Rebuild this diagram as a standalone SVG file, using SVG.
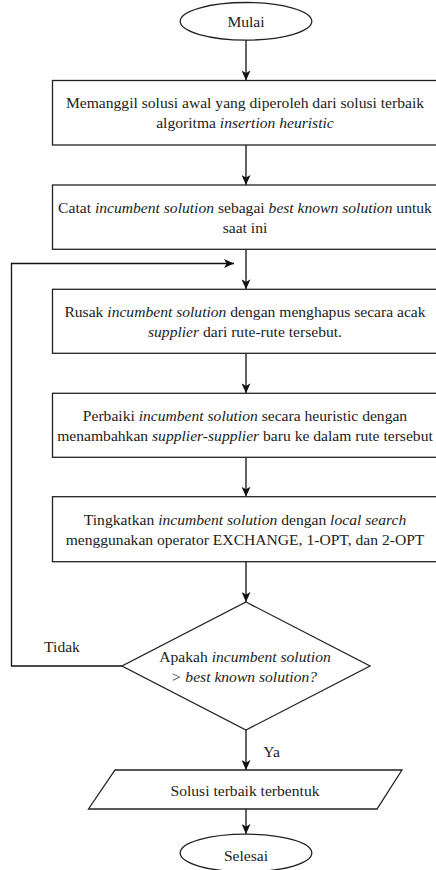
<svg xmlns="http://www.w3.org/2000/svg" width="436" height="870" viewBox="0 0 436 870">
<style>
.shape{fill:#ffffff;stroke:#222222;stroke-width:1.3}
.line{fill:none;stroke:#111111;stroke-width:1.3}
text{font-family:"Liberation Serif","Times New Roman",serif;font-size:15.6px;fill:#222222;text-anchor:middle}
.it{font-style:italic}
</style>
<defs>
<marker id="arr" viewBox="0 0 10 9" refX="10" refY="4.5" markerWidth="10" markerHeight="9" markerUnits="userSpaceOnUse" orient="auto">
<path d="M0,0 L10,4.5 L0,9 L2.6,4.5 z" fill="#111111"/>
</marker>
</defs>
<rect width="436" height="870" fill="#ffffff"/>
<g id="connectors">
<line class="line" x1="246" y1="40" x2="246" y2="80.5" marker-end="url(#arr)"/>
<line class="line" x1="246" y1="145" x2="246" y2="185" marker-end="url(#arr)"/>
<line class="line" x1="246" y1="249.3" x2="246" y2="289.3" marker-end="url(#arr)"/>
<line class="line" x1="246" y1="353.3" x2="246" y2="393.3" marker-end="url(#arr)"/>
<line class="line" x1="246" y1="457.3" x2="246" y2="496.7" marker-end="url(#arr)"/>
<line class="line" x1="246" y1="561.7" x2="246" y2="602" marker-end="url(#arr)"/>
<line class="line" x1="246" y1="730" x2="246" y2="770" marker-end="url(#arr)"/>
<line class="line" x1="246" y1="809" x2="246" y2="834" marker-end="url(#arr)"/>
<polyline class="line" points="122,666 11.5,666 11.5,263.5 234,263.5" marker-end="url(#arr)"/>
<text x="62" y="652">Tidak</text>
<text x="271.5" y="757">Ya</text>
</g>
<g id="mulai">
<ellipse class="shape" cx="246" cy="21.3" rx="65.8" ry="18.8"/>
<text x="246" y="26.8">Mulai</text>
</g>
<g id="box1">
<rect class="shape" x="52.5" y="80.5" width="387" height="64.5"/>
<text x="245" y="108.4">Memanggil solusi awal yang diperoleh dari solusi terbaik</text>
<text x="245" y="128.4">algoritma <tspan class="it">insertion heuristic</tspan></text>
</g>
<g id="box2">
<rect class="shape" x="52.5" y="185" width="387" height="64.3"/>
<text x="245" y="212.5">Catat <tspan class="it">incumbent solution</tspan> sebagai <tspan class="it">best known solution</tspan> untuk</text>
<text x="245" y="232.5">saat ini</text>
</g>
<g id="box3">
<rect class="shape" x="52.5" y="289.3" width="387" height="64"/>
<text x="245" y="316.8">Rusak <tspan class="it">incumbent solution</tspan> dengan menghapus secara acak</text>
<text x="245" y="336.8"><tspan class="it">supplier</tspan> dari rute-rute tersebut.</text>
</g>
<g id="box4">
<rect class="shape" x="52.5" y="393.3" width="387" height="64"/>
<text x="245" y="420.8">Perbaiki <tspan class="it">incumbent solution</tspan> secara heuristic dengan</text>
<text x="245" y="440.8">menambahkan <tspan class="it">supplier-supplier</tspan> baru ke dalam rute tersebut</text>
</g>
<g id="box5">
<rect class="shape" x="52.5" y="496.7" width="387" height="65"/>
<text x="245" y="524.7">Tingkatkan <tspan class="it">incumbent solution</tspan> dengan <tspan class="it">local search</tspan></text>
<text x="245" y="544.7">menggunakan operator EXCHANGE, 1-OPT, dan 2-OPT</text>
</g>
<g id="decision">
<polygon class="shape" points="246,602 370,666 246,730 122,666"/>
<text x="245" y="662">Apakah <tspan class="it">incumbent solution</tspan></text>
<text x="244" y="681.5" class="it">&gt; best known solution?</text>
</g>
<g id="output">
<polygon class="shape" points="115,770 402,770 377,809 88.5,809"/>
<text x="245" y="796">Solusi terbaik terbentuk</text>
</g>
<g id="selesai">
<ellipse class="shape" cx="246" cy="853" rx="65.8" ry="18.8"/>
<text x="246" y="860.5">Selesai</text>
</g>
</svg>
